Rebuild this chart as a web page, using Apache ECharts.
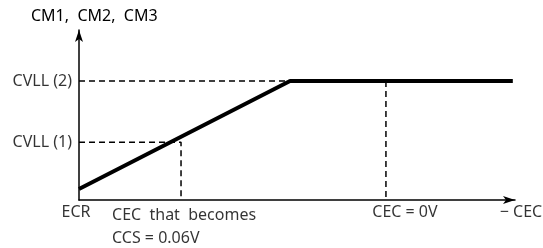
<!DOCTYPE html>
<html>
<head>
<meta charset="utf-8">
<script src="https://cdn.jsdelivr.net/npm/echarts@6/dist/echarts.min.js"></script>
<style>
  html, body { margin: 0; padding: 0; background: #fff; }
  #chart { width: 543px; height: 248px; }
</style>
</head>
<body>
<div id="chart"></div>
<script>
// characteristic line (x: ECR -> -CEC, y: CM level), abstract units 0..100
const lineX = [0, 48.4, 99.5];
const lineY = [6.5, 70, 70];

// clamp levels on the y axis
const levelNames = ["CVLL (1)", "CVLL (2)"];
const levelValues = [34, 70];

// marked points on the x axis
const markNames = ["CEC  that  becomes\nCCS = 0.06V", "CEC = 0V"];
const markX = [23.4, 70.4];

// axis end labels
const xStartLabel = "ECR";
const xEndLabel = "\u2212 CEC";
const yTitle = "CM1,  CM2,  CM3";

const font = "Noto Sans";
const fs = 16;
const chart = echarts.init(document.getElementById("chart"));

let dashStyle = { color: "#000", width: 1.5, type: [6, 4] };

let option = {
  animation: false,
  title: {
    text: yTitle,
    left: 26,
    top: 3,
    textStyle: { fontFamily: font, fontSize: fs, fontWeight: "normal", color: "#000" },
  },
  grid: { left: 79, right: 28, top: 30, bottom: 48 },
  xAxis: {
    type: "value",
    min: 0,
    max: 100,
    axisLine: { show: true, symbol: ["none", "arrow"], symbolSize: [6, 12], lineStyle: { color: "#000", width: 1.5 } },
    axisTick: { show: false },
    axisLabel: { show: false },
    splitLine: { show: false },
  },
  yAxis: {
    type: "value",
    min: 0,
    max: 100,
    axisLine: { show: true, symbol: ["none", "arrow"], symbolSize: [6, 12], lineStyle: { color: "#000", width: 1.5 } },
    axisTick: { show: false },
    axisLabel: { show: false },
    splitLine: { show: false },
  },
  series: [
    {
      // CVLL(2) guide
      type: "line",
      data: [[0, levelValues[1]], [lineX[1], levelValues[1]]],
      symbol: "none",
      lineStyle: dashStyle,
    },
    {
      // CVLL(1) guide down to CEC 0.06V
      type: "line",
      data: [[0, levelValues[0]], [markX[0], levelValues[0]], [markX[0], 0]],
      symbol: "none",
      lineStyle: dashStyle,
    },
    {
      // CEC = 0V guide
      type: "line",
      data: [[markX[1], levelValues[1]], [markX[1], 0]],
      symbol: "none",
      lineStyle: dashStyle,
    },
    {
      type: "line",
      data: lineX.map((x, i) => [x, lineY[i]]),
      symbol: "none",
      lineStyle: { color: "#000", width: 4 },
      z: 5,
    },
    {
      // y level labels
      type: "scatter",
      symbolSize: 0,
      data: levelValues.map((v, i) => ({ value: [0, v], name: levelNames[i] })),
      label: {
        show: true,
        position: "left",
        distance: 7,
        formatter: "{b}",
        fontFamily: font,
        fontSize: fs,
        color: "#000",
      },
    },
    {
      // x axis labels
      type: "scatter",
      symbolSize: 0,
      data: [
        { value: [0, 0], name: xStartLabel, label: { offset: [-3, 0] } },
        { value: [markX[0], 0], name: markNames[0], label: { align: "left", offset: [-69, 0], lineHeight: 23 } },
        { value: [markX[1], 0], name: markNames[1], label: { offset: [19, 0] } },
        { value: [100, 0], name: xEndLabel, label: { offset: [6, 0] } },
      ],
      label: {
        show: true,
        position: "bottom",
        distance: 4,
        formatter: "{b}",
        fontFamily: font,
        fontSize: fs,
        color: "#000",
      },
    },
  ],
};

option && chart.setOption(option);
</script>
</body>
</html>
